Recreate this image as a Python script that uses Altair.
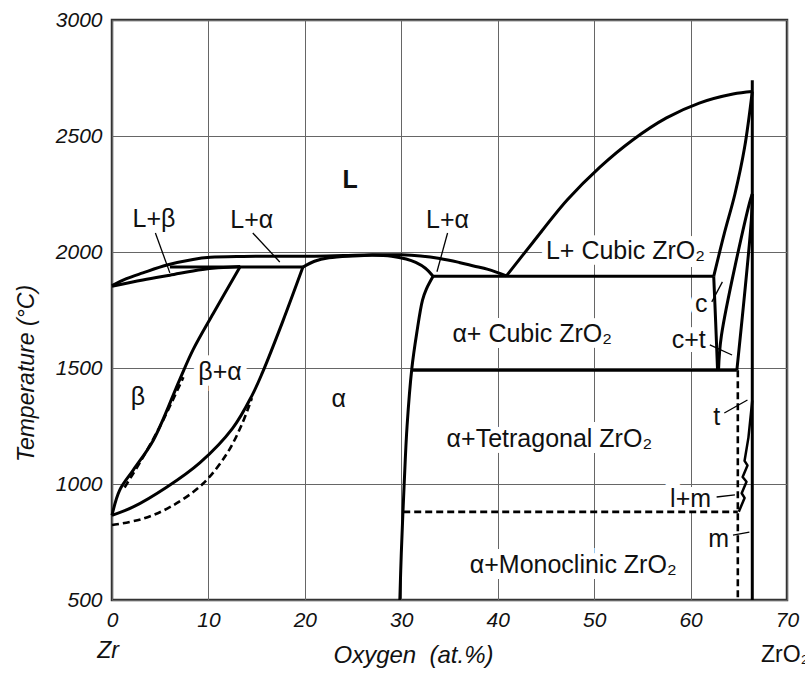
import altair as alt
import pandas as pd

# ---------------- Zr–O phase boundaries (x = oxygen at.%, T = °C) ----------------
# liquidus from pure Zr over the alpha maximum to the eutectic
liq_x = [0, 1.5, 3.2, 5.7, 8.4, 10.2, 13.6, 17, 20.5, 24, 27, 30, 32, 34, 36, 37.5, 39, 40.9]
liq_t = [1855, 1885, 1910, 1944, 1968, 1977, 1981, 1982, 1982, 1985, 1988, 1988, 1983, 1972, 1955, 1940, 1925, 1897]

# beta solidus
bsol_x = [0, 3.2, 6, 9.4, 13.3]
bsol_t = [1852, 1879, 1900, 1925, 1937]

# peritectic line
per_x = [6, 19.8]
per_t = [1935, 1935]

# alpha solidus (both sides of the congruent maximum)
asol_x = [19.8, 21, 22.5, 25, 27, 29, 30.5, 31.5, 32.5, 33.3]
asol_t = [1935, 1960, 1975, 1983, 1986, 1982, 1970, 1955, 1930, 1895]

# ZrO2 liquidus
zliq_x = [40.9, 43.6, 47.2, 50.6, 54, 57.5, 60.9, 64.4, 66.4]
zliq_t = [1897, 2039, 2224, 2366, 2483, 2578, 2642, 2681, 2692]

# eutectic line
eut_x = [33.3, 62.4]
eut_t = [1895, 1895]

# alpha / alpha + ZrO2 boundary
abnd_x = [33.3, 32.6, 32.2, 31.6, 31.1, 30.6, 30.3, 30.0, 29.85]
abnd_t = [1895, 1840, 1793, 1650, 1500, 1250, 1000, 700, 500]

# beta transus and alpha transus (solid)
btr_x = [0, 0.8, 2.2, 4.3, 7.0, 8.4, 10.5, 13.3]
btr_t = [865, 974, 1060, 1190, 1448, 1578, 1735, 1937]
atr_x = [0, 2.2, 5.7, 9.1, 12.5, 14.5, 15.6, 17.7, 19.8]
atr_t = [865, 901, 987, 1091, 1240, 1380, 1480, 1700, 1935]

# transus curves (dashed)
btr2_x = [1.3, 3, 5, 7.4]
btr2_t = [985, 1100, 1250, 1460]
atr2_x = [0, 3, 6, 9.4, 11.9, 13.5, 14.5]
atr2_t = [823, 848, 900, 1000, 1130, 1260, 1370]

# cubic ZrO2 field
cliq_x = [66.4, 65.6, 64.6, 63.5, 62.4]
cliq_t = [2692, 2450, 2250, 2080, 1895]
csol_x = [62.4, 62.6, 62.8]
csol_t = [1895, 1700, 1490]
cct_x = [66.4, 66.1, 63.2, 62.9]
cct_t = [2250, 2210, 1640, 1490]
ctt_x = [66.4, 66.3, 64.8]
ctt_t = [2250, 2138, 1490]

# eutectoid line, ZrO2 line
h1500_x = [31.1, 64.8]
h1500_t = [1490, 1490]
zro2_x = [66.4, 66.4]
zro2_t = [2740, 500]

# tetragonal / tetragonal + monoclinic boundary
tm_x = [66.4, 66.0, 65.6, 65.9, 65.4, 65.8, 65.3, 65.6, 65.1, 65.0]
tm_t = [1360, 1200, 1100, 1080, 1030, 1010, 960, 940, 890, 880]

# dashed lines: tetragonal limit and t -> m transformation
tvert_x = [64.9, 64.9]
tvert_t = [1490, 500]
h880_x = [30.2, 64.9]
h880_t = [880, 880]

segments = [
    ("liq", liq_x, liq_t, "curve"), ("bsol", bsol_x, bsol_t, "curve"),
    ("per", per_x, per_t, "curve"), ("asol", asol_x, asol_t, "curve"),
    ("zliq", zliq_x, zliq_t, "curve"), ("eut", eut_x, eut_t, "curve"),
    ("abnd", abnd_x, abnd_t, "curve"), ("btr", btr_x, btr_t, "curve"),
    ("atr", atr_x, atr_t, "curve"), ("cliq", cliq_x, cliq_t, "curve"),
    ("csol", csol_x, csol_t, "curve"),
    ("cct", cct_x, cct_t, "curve"), ("ctt", ctt_x, ctt_t, "curve"),
    ("h1500", h1500_x, h1500_t, "curve"), ("zro2", zro2_x, zro2_t, "curve"),
    ("tm", tm_x, tm_t, "zigzag"),
    ("btr2", btr2_x, btr2_t, "dashed"), ("atr2", atr2_x, atr2_t, "dashed"),
    ("tvert", tvert_x, tvert_t, "dashed"), ("h880", h880_x, h880_t, "dashed"),
]

rows = []
for name, xs, ts, style in segments:
    for i, (xv, tv) in enumerate(zip(xs, ts)):
        rows.append({"seg": name, "i": i, "x": xv, "T": tv, "style": style})
lines_df = pd.DataFrame(rows)

# ---------------- region labels ----------------
lab_text = ["L", "L+β", "L+α", "L+α", "L+ Cubic ZrO₂", "α+ Cubic ZrO₂", "c", "c+t", "t",
            "α+Tetragonal ZrO₂", "l+m", "m", "α+Monoclinic ZrO₂", "β", "β+α", "α"]
lab_x = [24.7, 4.35, 14.5, 34.8, 45.0, 35.3, 61.1, 59.8, 62.7, 34.7, 60.0, 62.9, 37.1, 2.7, 11.2, 23.5]
lab_t = [2278, 2108, 2104, 2104, 1970, 1612, 1740, 1586, 1254, 1160, 901, 729, 616, 1341, 1448, 1332]
lab_align = ["center", "center", "center", "center", "left", "left", "center", "center", "center",
             "left", "center", "center", "left", "center", "center", "center"]
lab_weight = ["bold"] + ["normal"] * 15
labels_df = pd.DataFrame({"label": lab_text, "x": lab_x, "T": lab_t,
                          "align": lab_align, "weight": lab_weight})

# leader lines from labels to narrow fields
ld_x1 = [4.5, 14.6, 34.8, 62.2, 62.0, 63.5, 62.7, 64.4]
ld_t1 = [2082, 2082, 2082, 1785, 1600, 1306, 944, 780]
ld_x2 = [6.0, 17.4, 33.7, 63.3, 64.3, 65.9, 64.6, 66.1]
ld_t2 = [1910, 1957, 1915, 1871, 1556, 1362, 953, 793]
leaders_df = pd.DataFrame({"x": ld_x1, "T": ld_t1, "x2": ld_x2, "T2": ld_t2})

# end-member names under the x axis
end_df = pd.DataFrame({"label": ["Zr", "ZrO₂"], "x": [0, 67.3]})

FONT = "Liberation Sans"
X_TITLE = "Oxygen\u00a0 (at.%)"
Y_TITLE = "Temperature (°C)"

xscale = alt.Scale(domain=[0, 70], nice=False, zero=False)
yscale = alt.Scale(domain=[500, 3000], nice=False, zero=False)
xaxis = alt.Axis(values=list(range(0, 71, 10)), format="d", grid=True, ticks=False, domain=False,
                 labelFont=FONT, labelFontSize=21, labelFontStyle="italic", labelColor="#111",
                 labelPadding=9, labelFlush=False, labelOverlap=False,
                 titleFont=FONT, titleFontSize=24, titleFontStyle="italic", titleFontWeight="normal",
                 titleColor="#111", titleX=301, titleY=62, titleAlign="center",
                 titleBaseline="alphabetic")
yaxis = alt.Axis(values=list(range(500, 3001, 500)), format="d", grid=True, ticks=False, domain=False,
                 labelFont=FONT, labelFontSize=21, labelFontStyle="italic", labelColor="#111",
                 labelPadding=10, labelFlush=False, labelOverlap=False,
                 titleFont=FONT, titleFontSize=23, titleFontStyle="italic", titleFontWeight="normal",
                 titleColor="#111", titleAngle=270, titleX=-79, titleY=353, titleAlign="center",
                 titleBaseline="alphabetic")


def X(field):
    return alt.X(field, type="quantitative", scale=xscale, axis=xaxis, title=X_TITLE)


def Y(field):
    return alt.Y(field, type="quantitative", scale=yscale, axis=yaxis, title=Y_TITLE)


def label_layer(filt, align, weight, halo):
    style = dict(color="white", stroke="white", strokeWidth=12) if halo else dict(color="#111")
    return alt.Chart(labels_df).transform_filter(filt).mark_text(
        align=align, baseline="alphabetic", font=FONT, fontSize=25, fontWeight=weight, **style
    ).encode(x=X("x"), y=Y("T"), text="label:N")


# white halos keep grid lines clear around the labels
halo_c = label_layer("datum.align == 'center'", "center", "normal", True)
halo_l = label_layer("datum.align == 'left'", "left", "normal", True)

curves = alt.Chart(lines_df).transform_filter("datum.style == 'curve'").mark_line(
    color="black", strokeWidth=3, strokeJoin="round", interpolate="catmull-rom"
).encode(x=X("x"), y=Y("T"), detail="seg:N", order="i:Q")

zigzag = alt.Chart(lines_df).transform_filter("datum.style == 'zigzag'").mark_line(
    color="black", strokeWidth=2.5, strokeJoin="round"
).encode(x=X("x"), y=Y("T"), detail="seg:N", order="i:Q")

dashed = alt.Chart(lines_df).transform_filter("datum.style == 'dashed'").mark_line(
    color="black", strokeWidth=2.6, strokeDash=[7, 4], interpolate="catmull-rom"
).encode(x=X("x"), y=Y("T"), detail="seg:N", order="i:Q")

leaders = alt.Chart(leaders_df).mark_rule(color="black", strokeWidth=1.3).encode(
    x=X("x"), y=Y("T"), x2="x2:Q", y2="T2:Q"
)

text_c = label_layer("datum.align == 'center' && datum.weight == 'normal'", "center", "normal", False)
text_b = label_layer("datum.weight == 'bold'", "center", "bold", False)
text_l = label_layer("datum.align == 'left'", "left", "normal", False)

zr = alt.Chart(end_df).transform_filter("datum.label == 'Zr'").mark_text(
    align="center", baseline="alphabetic", font=FONT, fontSize=23, fontStyle="italic",
    color="#111", dx=-4
).encode(x=X("x"), y=alt.value(638), text="label:N")
zro2 = alt.Chart(end_df).transform_filter("datum.label != 'Zr'").mark_text(
    align="left", baseline="alphabetic", font=FONT, fontSize=23, color="#111"
).encode(x=X("x"), y=alt.value(642), text="label:N")

chart = alt.layer(
    halo_c, halo_l, curves, zigzag, dashed, leaders, text_c, text_b, text_l, zr, zro2
).properties(
    width=675, height=580,
    padding={"left": 112, "top": 20, "right": 18, "bottom": 75},
    autosize=alt.AutoSizeParams(type="none"),
    background="white",
).configure_view(
    stroke="#333", strokeWidth=2.5
).configure_axis(
    gridColor="#666", gridWidth=1, gridOpacity=1
)

chart.save("out.html", embed_options={"renderer": "svg", "actions": False})
